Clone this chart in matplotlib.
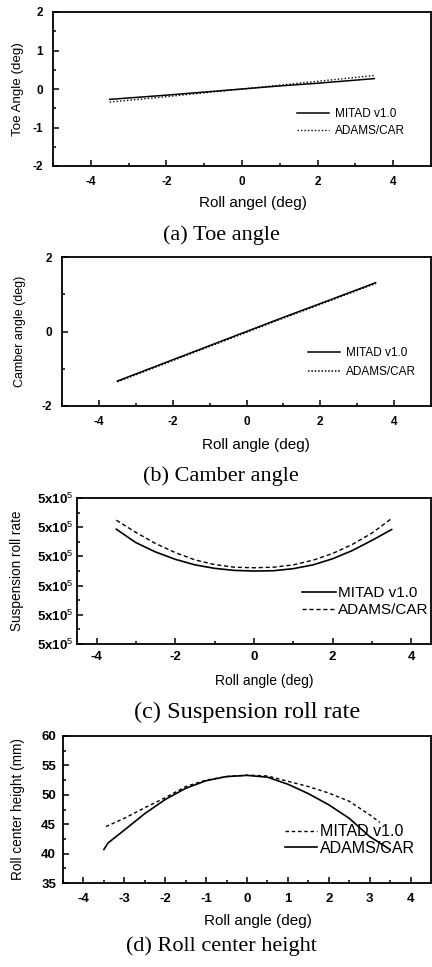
import matplotlib
matplotlib.use("Agg")
import matplotlib.pyplot as plt
from matplotlib.ticker import MultipleLocator, FixedLocator, FixedFormatter

plt.rcParams['font.family'] = ['Liberation Sans', 'DejaVu Sans']
plt.rcParams['mathtext.fontset'] = 'custom'
plt.rcParams['mathtext.rm'] = 'Liberation Sans'
plt.rcParams['mathtext.it'] = 'Liberation Sans'
plt.rcParams['mathtext.bf'] = 'Liberation Sans:bold'
plt.rcParams['axes.unicode_minus'] = False

# ---------------- data ----------------
# (a) Toe angle
toe_x = [-3.5, -2, -1, 0, 1, 2, 3.5]
toe_mitad = [-0.27, -0.16, -0.08, 0.0, 0.08, 0.15, 0.27]
toe_adams = [-0.34, -0.20, -0.10, 0.0, 0.10, 0.20, 0.35]

# (b) Camber angle
cam_x = [-3.5, -2, -1, 0, 1, 2, 3.5]
cam_mitad = [-1.33, -0.76, -0.38, 0.0, 0.38, 0.75, 1.31]
cam_adams = [-1.35, -0.78, -0.40, -0.02, 0.36, 0.73, 1.29]

# (c) Suspension roll rate (tick positions labelled 5x10^5)
rr_x = [-3.5, -3, -2.5, -2, -1.5, -1, -0.5, 0, 0.5, 1, 1.5, 2, 2.5, 3, 3.5]
rr_mitad = [3.93, 3.47, 3.15, 2.90, 2.71, 2.59, 2.52, 2.50, 2.51, 2.58, 2.71, 2.92, 3.20, 3.55, 3.92]
rr_adams = [4.24, 3.82, 3.44, 3.13, 2.88, 2.72, 2.63, 2.61, 2.63, 2.71, 2.87, 3.10, 3.41, 3.80, 4.30]
rr_ticks = [0, 1, 2, 3, 4, 5]
rr_ticklabels = ['5x10$^{5}$'] * 6

# (d) Roll center height
rc_mitad_x = [-3.45, -3, -2.5, -2, -1.5, -1, -0.5, 0, 0.5, 1, 1.5, 2, 2.5, 3, 3.25]
rc_mitad = [44.6, 46.0, 47.8, 49.5, 51.4, 52.5, 53.1, 53.35, 53.2, 52.3, 51.4, 50.3, 48.9, 46.6, 45.3]
rc_adams_x = [-3.5, -3.4, -3, -2.5, -2, -1.5, -1, -0.5, 0, 0.5, 1, 1.5, 2, 2.5, 3, 3.5]
rc_adams = [40.7, 41.8, 44.0, 46.8, 49.2, 51.1, 52.4, 53.1, 53.3, 53.0, 51.8, 50.2, 48.3, 46.0, 42.9, 40.7]

W, H = 432, 967
fig = plt.figure(figsize=(W / 100, H / 100), dpi=100)


def rect(l, r, t, b):
    return [l / W, 1 - b / H, (r - l) / W, (b - t) / H]


def fx(px):
    return px / W


def fy(py):
    return 1 - py / H


def style(ax, tsize):
    for s in ax.spines.values():
        s.set_linewidth(1.3)
    ax.tick_params(which='both', direction='in', top=False, right=False,
                   width=1.1, pad=7, labelsize=tsize)
    ax.tick_params(which='major', length=4.5)
    ax.tick_params(which='minor', length=2.5)
    for lab in ax.get_xticklabels() + ax.get_yticklabels():
        lab.set_fontweight('bold')


def labels(ax, xl, xlx, xly, xls, yl, ylx, yls, cap, capy, caps, capx=221):
    ax.set_xlabel(xl, fontsize=xls, va='baseline', ha='center')
    ax.xaxis.set_label_coords(fx(xlx), fy(xly), transform=fig.transFigure)
    ax.set_ylabel(yl, fontsize=yls, va='center', ha='center')
    ax.yaxis.set_label_coords(fx(ylx), (ax.get_position().y0 + ax.get_position().y1) / 2,
                              transform=fig.transFigure)
    fig.text(fx(capx), fy(capy), cap, family=['Liberation Serif', 'DejaVu Serif'],
             fontsize=caps, ha='center', va='baseline')


# ---------- (a) ----------
ax = fig.add_axes(rect(53, 431, 12, 166))
l1, = ax.plot(toe_x, toe_mitad, color='black', lw=1.1, ls='-', label='MITAD v1.0')
l2, = ax.plot(toe_x, toe_adams, color='black', lw=1.0, ls=(0, (1, 1.5)), label='ADAMS/CAR')
ax.set_xlim(-5, 5)
ax.set_ylim(-2, 2)
ax.xaxis.set_major_locator(MultipleLocator(2))
ax.xaxis.set_minor_locator(MultipleLocator(1))
ax.yaxis.set_major_locator(MultipleLocator(1))
ax.yaxis.set_minor_locator(MultipleLocator(0.5))
style(ax, 8.5)
labels(ax, 'Roll angel (deg)', 253, 207, 11, 'Toe Angle (deg)', 18, 9.6, '(a) Toe angle', 240, 16)
ax.legend(handles=[l1, l2], loc='center left', bbox_to_anchor=(fx(297), fy(122.5)),
          bbox_transform=fig.transFigure, frameon=False, fontsize=8.5, handlelength=2.7,
          handletextpad=0.5, borderpad=0, borderaxespad=0, labelspacing=0.45)

# ---------- (b) ----------
ax = fig.add_axes(rect(62, 431, 257, 406))
l1, = ax.plot(cam_x, cam_mitad, color='black', lw=1.1, ls='-', label='MITAD v1.0')
l2, = ax.plot(cam_x, cam_adams, color='black', lw=1.1, ls=(0, (1, 1.2)), label='ADAMS/CAR')
ax.set_xlim(-5, 5)
ax.set_ylim(-2, 2)
ax.xaxis.set_major_locator(MultipleLocator(2))
ax.xaxis.set_minor_locator(MultipleLocator(1))
ax.yaxis.set_major_locator(MultipleLocator(2))
ax.yaxis.set_minor_locator(MultipleLocator(1))
style(ax, 8.5)
labels(ax, 'Roll angle (deg)', 256, 449, 11, 'Camber angle (deg)', 20, 9, '(b) Camber angle', 481, 16)
ax.legend(handles=[l1, l2], loc='center left', bbox_to_anchor=(fx(308), fy(362.5)),
          bbox_transform=fig.transFigure, frameon=False, fontsize=8.5, handlelength=2.7,
          handletextpad=0.5, borderpad=0, borderaxespad=0, labelspacing=0.65)

# ---------- (c) ----------
ax = fig.add_axes(rect(77, 431, 498, 644))
l1, = ax.plot(rr_x, rr_mitad, color='black', lw=1.2, ls='-', label='MITAD v1.0')
l2, = ax.plot(rr_x, rr_adams, color='black', lw=1.0, ls=(0, (3, 2)), label='ADAMS/CAR')
ax.set_xlim(-4.5, 4.5)
ax.set_ylim(0, 5)
ax.xaxis.set_major_locator(MultipleLocator(2))
ax.xaxis.set_minor_locator(MultipleLocator(1))
ax.yaxis.set_major_locator(FixedLocator(rr_ticks))
ax.yaxis.set_major_formatter(FixedFormatter(rr_ticklabels))
ax.yaxis.set_minor_locator(MultipleLocator(0.5))
style(ax, 9.5)
ax.tick_params(axis='x', pad=5)
ax.tick_params(axis='y', pad=3)
labels(ax, 'Roll angle (deg)', 264, 685, 10, 'Suspension roll rate', 17, 9.8,
       '(c) Suspension roll rate', 718, 17.5, capx=247)
ax.legend(handles=[l1, l2], loc='center left', bbox_to_anchor=(fx(302), fy(601.5)),
          bbox_transform=fig.transFigure, frameon=False, fontsize=11, handlelength=2.2,
          handletextpad=0.15, borderpad=0, borderaxespad=0, labelspacing=0.2)

# ---------- (d) ----------
ax = fig.add_axes(rect(63, 431, 736, 883))
l1, = ax.plot(rc_mitad_x, rc_mitad, color='black', lw=1.0, ls=(0, (2.5, 2)), label='MITAD v1.0')
l2, = ax.plot(rc_adams_x, rc_adams, color='black', lw=1.2, ls='-', label='ADAMS/CAR')
ax.set_xlim(-4.5, 4.5)
ax.set_ylim(35, 60)
ax.xaxis.set_major_locator(MultipleLocator(1))
ax.xaxis.set_minor_locator(MultipleLocator(0.5))
ax.yaxis.set_major_locator(MultipleLocator(5))
ax.yaxis.set_minor_locator(MultipleLocator(2.5))
style(ax, 9.5)
ax.tick_params(axis='y', pad=5)
labels(ax, 'Roll angle (deg)', 258, 925, 11, 'Roll center height (mm)', 18, 9.8,
       '(d) Roll center height', 951, 16)
ax.legend(handles=[l1, l2], loc='center left', bbox_to_anchor=(fx(285), fy(840)),
          bbox_transform=fig.transFigure, frameon=False, fontsize=11.5, handlelength=2.0,
          handletextpad=0.2, borderpad=0, borderaxespad=0, labelspacing=0.1)

fig.savefig('out.png', dpi=100)
